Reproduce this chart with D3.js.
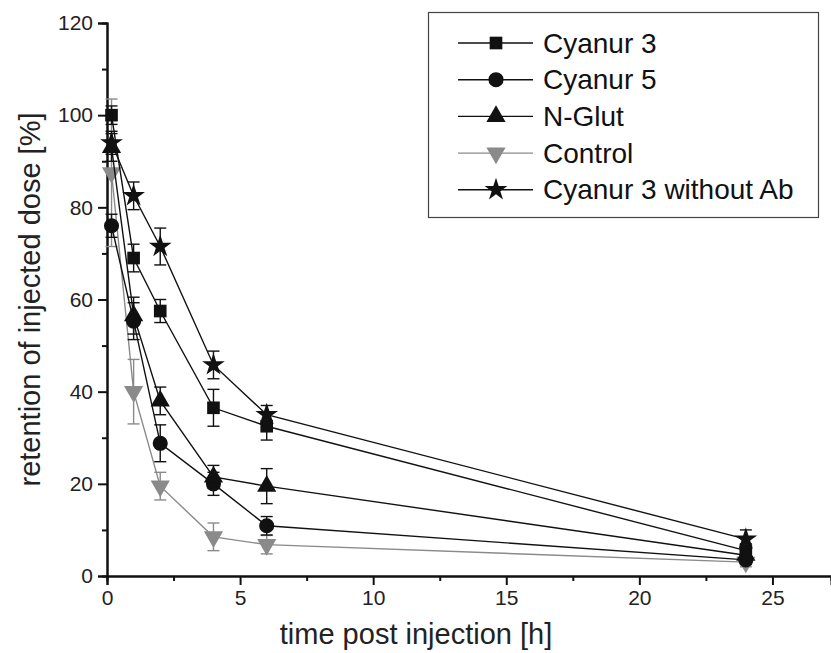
<!DOCTYPE html>
<html>
<head>
<meta charset="utf-8">
<script src="https://cdn.jsdelivr.net/npm/d3@7"></script>
<style>
  body { margin: 0; background: #fff; }
  text { font-family: "Liberation Sans", Arial, sans-serif; }
</style>
</head>
<body>
<svg id="chart" width="831" height="653"></svg>
<script>
// time points in hours
const times = [0.17, 1, 2, 4, 6, 24];

const seriesNames = ['Cyanur 3', 'Cyanur 5', 'N-Glut', 'Control', 'Cyanur 3 without Ab'];

const cyanur3 = [100, 69, 57.5, 36.5, 32.5, 5.5];
const cyanur3Err = [2, 3, 2.5, 4, 3, 1.5];
const cyanur5 = [76, 55.3, 28.8, 20, 10.9, 3.5];
const cyanur5Err = [2.5, 4, 4, 2.5, 2, 1];
const nGlut = [93, 56.5, 38, 21.5, 19.5, 4.5];
const nGlutErr = [3, 4, 3, 2.5, 3.8, 1];
const control = [87.5, 40, 19.5, 8.5, 6.8, 3];
const controlErr = [16, 7, 3, 3, 2, 1];
const cyanur3NoAb = [94, 82.5, 71.5, 45.8, 35, 8];
const cyanur3NoAbErr = [2.5, 3, 4, 3, 2, 2];

const yTicks = [0, 20, 40, 60, 80, 100, 120];
const xTicks = [0, 5, 10, 15, 20, 25];

const svg = d3.select('#chart');
const mLeft = 107, mTop = 23, mRight = 831, mBottom = 576;

const x = d3.scaleLinear().domain([0, 27.2]).range([mLeft, mRight]);
const y = d3.scaleLinear().domain([0, 120]).range([mBottom, mTop]);

const series = [
  { name: seriesNames[0], vals: cyanur3, err: cyanur3Err, sym: d3.symbolSquare, size: 160, color: '#111', rot: 0 },
  { name: seriesNames[1], vals: cyanur5, err: cyanur5Err, sym: d3.symbolCircle, size: 180, color: '#111', rot: 0 },
  { name: seriesNames[2], vals: nGlut, err: nGlutErr, sym: d3.symbolTriangle, size: 160, color: '#111', rot: 0 },
  { name: seriesNames[3], vals: control, err: controlErr, sym: d3.symbolTriangle, size: 160, color: '#8a8a8a', rot: 180 },
  { name: seriesNames[4], vals: cyanur3NoAb, err: cyanur3NoAbErr, sym: d3.symbolStar, size: 160, color: '#111', rot: 0 },
];

// axes
svg.append('g').attr('transform', `translate(${mLeft},0)`)
  .call(d3.axisLeft(y).tickValues(yTicks).tickSize(9).tickPadding(5));
svg.append('g').attr('transform', `translate(${mLeft},0)`)
  .call(d3.axisLeft(y).tickValues(d3.range(10, 120, 20)).tickSize(5).tickFormat(''));
svg.append('g').attr('transform', `translate(0,${mBottom})`)
  .call(d3.axisBottom(x).tickValues(xTicks).tickSize(9).tickPadding(5));
svg.append('g').attr('transform', `translate(0,${mBottom})`)
  .call(d3.axisBottom(x).tickValues(d3.range(2.5, 27.2, 5)).tickSize(5).tickFormat(''));

svg.selectAll('.domain').attr('stroke', '#111').attr('stroke-width', 2);
svg.selectAll('.tick line').attr('stroke', '#111').attr('stroke-width', 2);
svg.selectAll('.tick text').attr('font-size', 21).attr('fill', '#222');

svg.append('text')
  .attr('transform', `translate(40,${(mTop + mBottom) / 2}) rotate(-90)`)
  .attr('text-anchor', 'middle')
  .attr('font-size', 29)
  .attr('fill', '#222')
  .text('retention of injected dose [%]');

svg.append('text')
  .attr('x', 416)
  .attr('y', 644)
  .attr('text-anchor', 'middle')
  .attr('font-size', 29)
  .attr('fill', '#222')
  .text('time post injection [h]');

const line = d3.line().x(d => x(d[0])).y(d => y(d[1]));
const plot = svg.append('g');

// draw control (gray) first, then black series
const order = [3, 0, 1, 2, 4];
order.forEach(i => {
  const s = series[i];
  const pts = times.map((t, j) => [t, s.vals[j], s.err[j]]);
  const g = plot.append('g');
  g.append('path').datum(pts)
    .attr('d', line)
    .attr('fill', 'none')
    .attr('stroke', s.color)
    .attr('stroke-width', 1.4);
  const eb = g.selectAll('.eb').data(pts).enter().append('g');
  eb.append('line')
    .attr('x1', d => x(d[0])).attr('x2', d => x(d[0]))
    .attr('y1', d => y(d[1] + d[2])).attr('y2', d => y(d[1] - d[2]))
    .attr('stroke', s.color).attr('stroke-width', 1.4);
  [1, -1].forEach(sg => {
    eb.append('line')
      .attr('x1', d => x(d[0]) - 6).attr('x2', d => x(d[0]) + 6)
      .attr('y1', d => y(d[1] + sg * d[2])).attr('y2', d => y(d[1] + sg * d[2]))
      .attr('stroke', s.color).attr('stroke-width', 1.4);
  });
  g.selectAll('.mk').data(pts).enter().append('path')
    .attr('d', d3.symbol().type(s.sym).size(s.size))
    .attr('transform', d => `translate(${x(d[0])},${y(d[1])}) rotate(${s.rot})`)
    .attr('fill', s.color);
});

// legend
const leg = svg.append('g');
leg.append('rect')
  .attr('x', 428.5).attr('y', 12.5).attr('width', 390).attr('height', 205)
  .attr('fill', '#fff').attr('stroke', '#444').attr('stroke-width', 1.2);
series.forEach((s, i) => {
  const ly = 43 + i * 36.7;
  const r = leg.append('g');
  r.append('line').attr('x1', 458).attr('x2', 533).attr('y1', ly).attr('y2', ly)
    .attr('stroke', s.color).attr('stroke-width', 1.4);
  r.append('path')
    .attr('d', d3.symbol().type(s.sym).size(s.size))
    .attr('transform', `translate(496,${ly}) rotate(${s.rot})`)
    .attr('fill', s.color);
  r.append('text').attr('x', 543).attr('y', ly + 9.5)
    .attr('font-size', 28).attr('fill', '#111').text(s.name);
});
</script>
</body>
</html>
